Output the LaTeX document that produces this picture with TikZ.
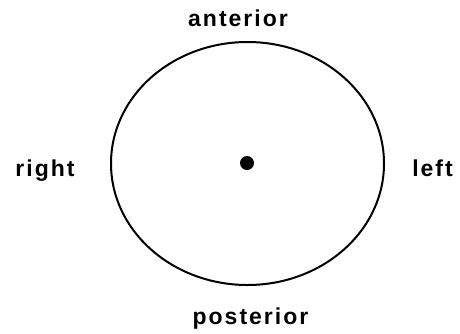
\documentclass[tikz,border=0pt]{standalone}
\usepackage{fontspec}
\usetikzlibrary{shapes.geometric}
\setmainfont{Liberation Sans}[LetterSpace=8.7]
\begin{document}
\begin{tikzpicture}[x=1pt,y=-1pt,
  lbl/.style={font=\fontsize{23}{27}\selectfont\bfseries, inner sep=0pt, anchor=base}]
\useasboundingbox (0,0) rectangle (460,333);
\node[draw, line width=2pt, ellipse, minimum width=273pt, minimum height=243pt, inner sep=0pt] (ring) at (247.5,163.5) {};
\node[circle, fill=black, minimum size=14pt, inner sep=0pt] (dot) at (247,163) {};
\node[lbl] (ant) at (238,26.5) {anterior};
\node[lbl] (post) at (250.5,324.5) {posterior};
\node[lbl] (right) at (45,176) {right};
\node[lbl] (left) at (432.5,176) {left};
\end{tikzpicture}
\end{document}
